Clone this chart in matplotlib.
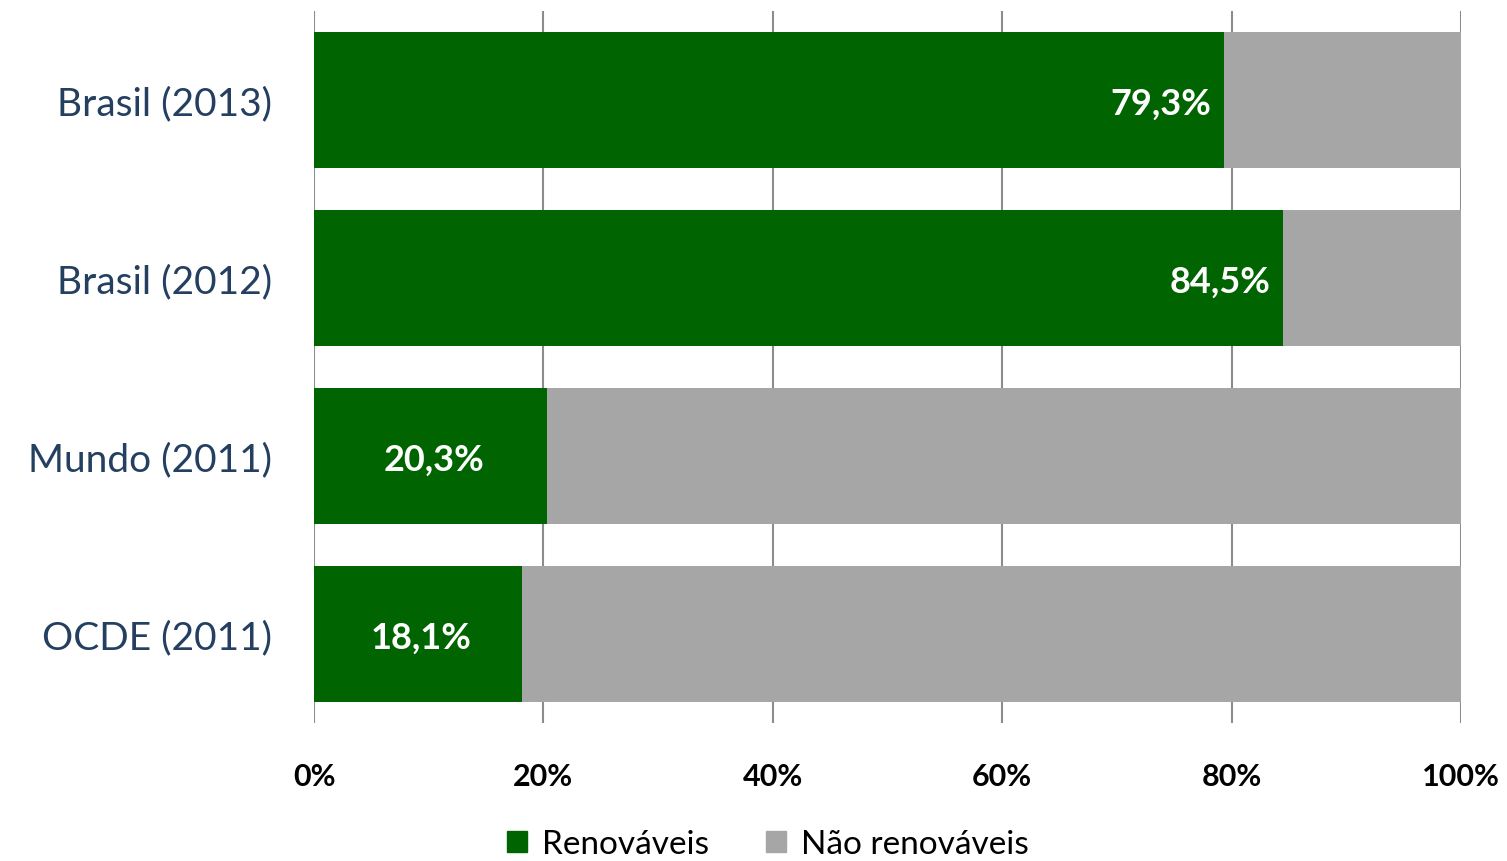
import matplotlib.pyplot as plt
from matplotlib.patches import Patch

# data
categories = ['Brasil (2013)', 'Brasil (2012)', 'Mundo (2011)', 'OCDE (2011)']
renovaveis = [79.3, 84.5, 20.3, 18.1]
nao_renovaveis = [100 - v for v in renovaveis]
label_pos = ['end', 'end', 'center', 'center']
xticks = [0, 20, 40, 60, 80, 100]

green = '#006400'
gray = '#A6A6A6'
navy = '#243F60'

plt.rcParams['font.family'] = ['Lato', 'DejaVu Sans']

fig = plt.figure(figsize=(15.07, 8.62), dpi=100)
ax = fig.add_axes([314 / 1507, 1 - 724 / 862, (1461 - 314) / 1507, 712 / 862])

y = list(range(len(categories)))
ax.barh(y, renovaveis, height=0.765, color=green, zorder=3)
ax.barh(y, nao_renovaveis, left=renovaveis, height=0.765, color=gray, zorder=3)

for yi, v, pos in zip(y, renovaveis, label_pos):
    txt = f'{v:.1f}%'.replace('.', ',')
    if pos == 'end':
        ax.text(v - 1.1, yi + 0.02, txt, ha='right', va='center', color='white',
                fontsize=26, fontweight='bold', zorder=4)
    else:
        ax.text(v / 2 + 0.3, yi + 0.02, txt, ha='center', va='center', color='white',
                fontsize=26, fontweight='bold', zorder=4)

ax.set_xlim(0, 100)
ax.set_ylim(3.5, -0.5)
ax.set_yticks(y)
ax.set_yticklabels(categories, fontsize=28, color=navy)
ax.set_xticks(xticks)
ax.set_xticklabels([f'{t}%' for t in xticks], fontsize=22, fontweight='bold', color='black')
ax.tick_params(axis='both', length=0)
ax.tick_params(axis='y', pad=30)
ax.tick_params(axis='x', pad=28)
ax.grid(axis='x', color='#8C8C8C', linewidth=1.5, zorder=0)
for s in ax.spines.values():
    s.set_visible(False)

handles = [Patch(color=green, label='Renováveis'), Patch(color=gray, label='Não renováveis')]
fig.legend(handles=handles, loc='center', bbox_to_anchor=(768 / 1507, 1 - 845 / 862),
           ncol=2, frameon=False, fontsize=24, handlelength=0.6, handleheight=0.6,
           handletextpad=0.45, columnspacing=1.7)

fig.savefig('out.png', dpi=100)
